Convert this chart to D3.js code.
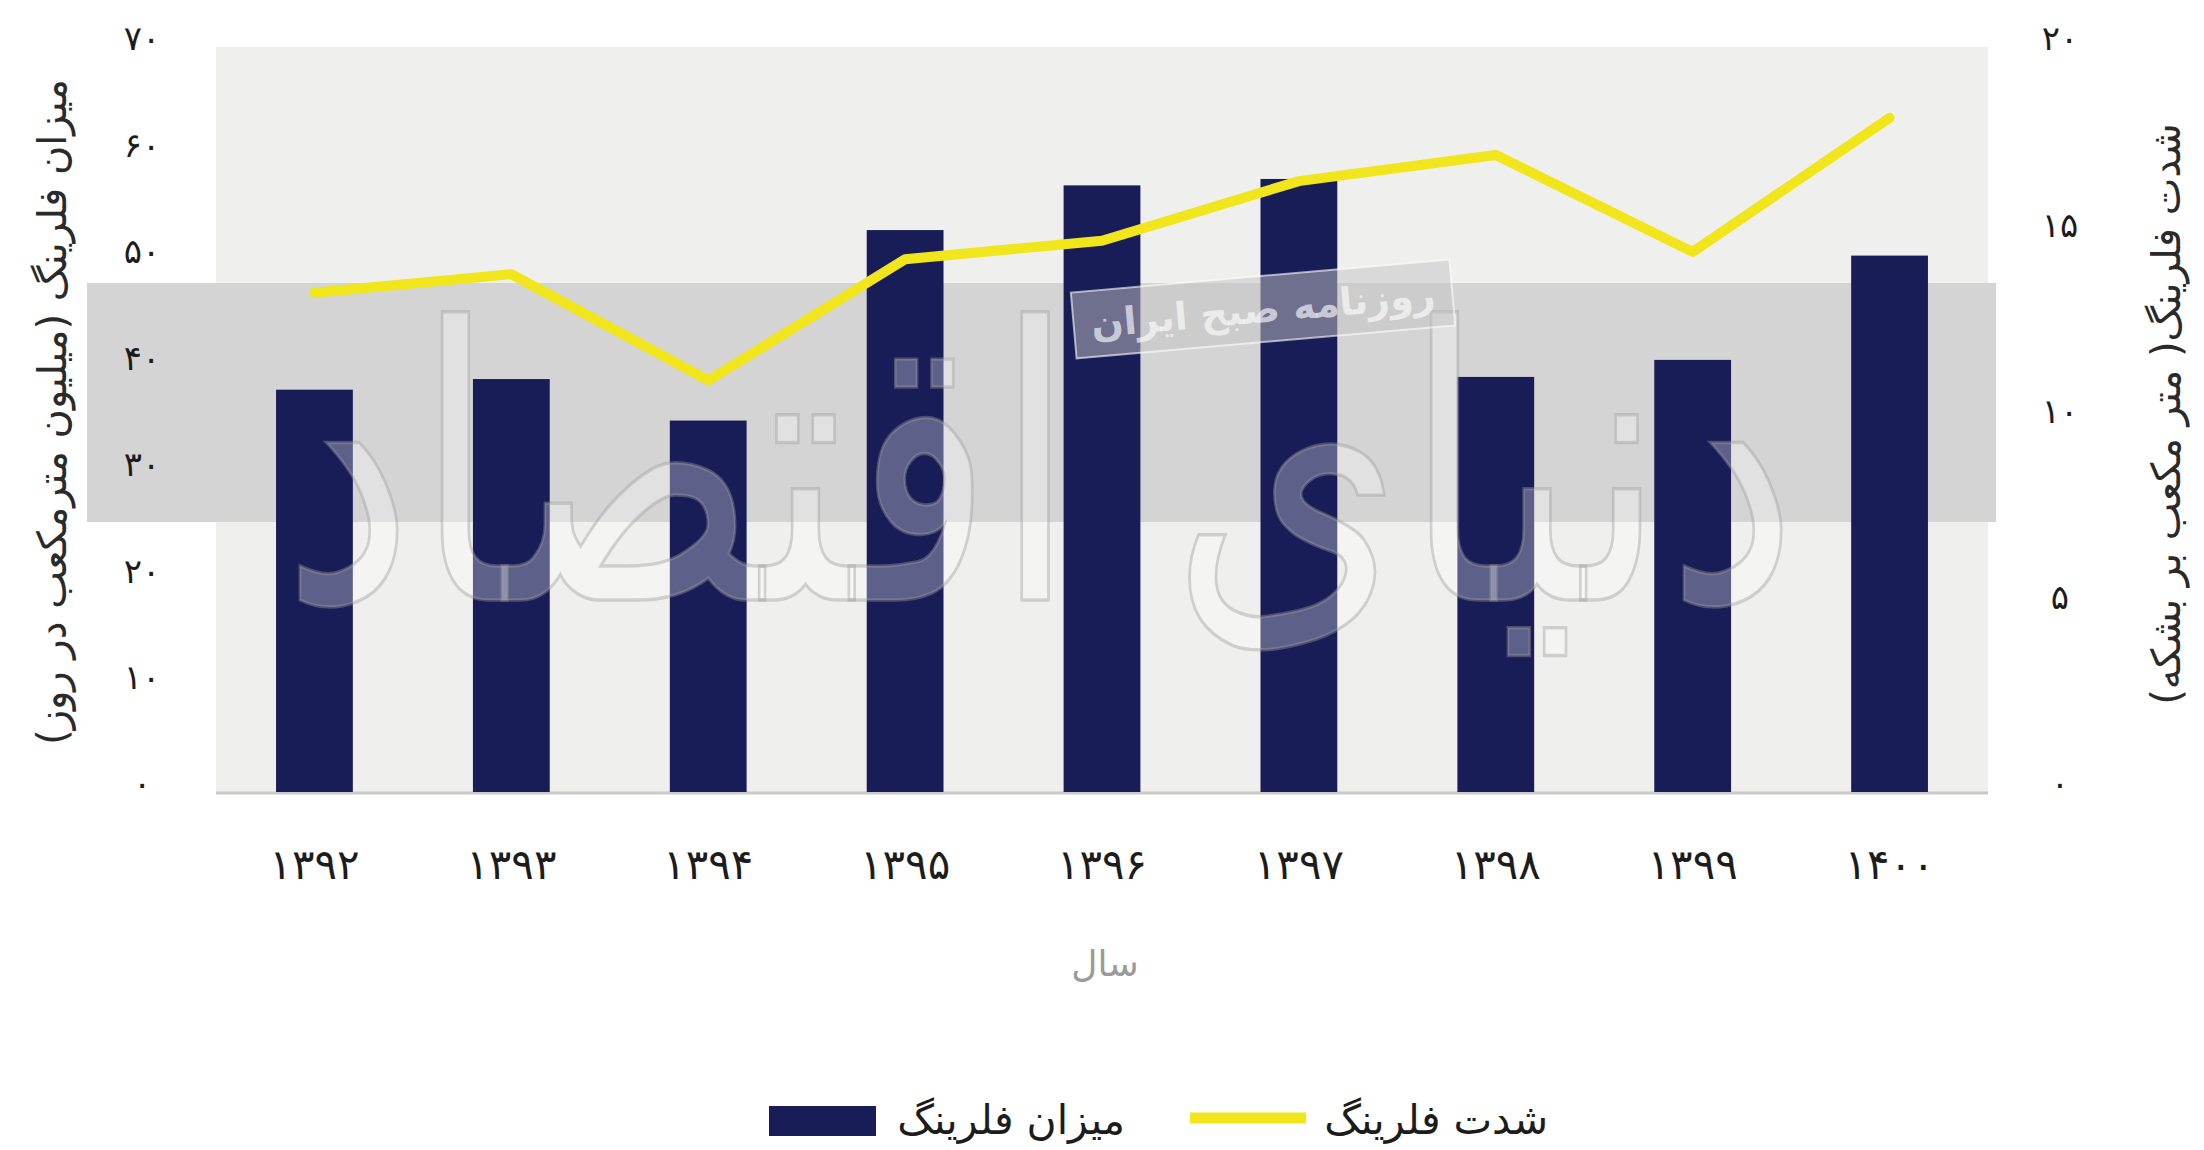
<!DOCTYPE html>
<html>
<head>
<meta charset="utf-8">
<script src="https://cdn.jsdelivr.net/npm/d3@7"></script>
<style>
  body { margin: 0; background: #ffffff; }
  svg { display: block; font-family: "DejaVu Sans", sans-serif; }
</style>
</head>
<body>
<div id="chart"></div>
<script>
// data
const years = ["۱۳۹۲", "۱۳۹۳", "۱۳۹۴", "۱۳۹۵", "۱۳۹۶", "۱۳۹۷", "۱۳۹۸", "۱۳۹۹", "۱۴۰۰"];
// flaring volume (million m3 per day) - bars, left axis
const flareVolume = [37.8, 38.8, 34.9, 52.8, 57.0, 57.6, 39.0, 40.6, 50.4];
// flaring intensity (m3 per barrel) - line, right axis
const flareIntensity = [13.4, 13.9, 11.05, 14.3, 14.8, 16.4, 17.1, 14.5, 18.1];
const leftTicks = [0, 10, 20, 30, 40, 50, 60, 70];
const rightTicks = [0, 5, 10, 15, 20];

const width = 2204, height = 1150;
// plot area
const margin = { top: 47, right: 216, bottom: 358, left: 216 };
const plotW = width - margin.left - margin.right,
      plotH = height - margin.top - margin.bottom;

const faDigits = "۰۱۲۳۴۵۶۷۸۹";
const toFa = v => String(v).replace(/\d/g, c => faDigits[c]);

const svg = d3.select("#chart")
  .append("svg")
  .attr("width", width)
  .attr("height", height);

const x = d3.scaleBand()
  .domain(years)
  .range([margin.left, margin.left + plotW])
  .paddingInner(0.61)
  .paddingOuter(0.305);

const yLeft = d3.scaleLinear().domain([0, 70]).range([margin.top + plotH, margin.top]);
const yRight = d3.scaleLinear().domain([0, 20]).range([margin.top + plotH, margin.top]);

// plot background
svg.append("rect")
  .attr("x", margin.left)
  .attr("y", margin.top)
  .attr("width", plotW)
  .attr("height", plotH)
  .attr("fill", "#efefee");

// watermark band
svg.append("rect")
  .attr("x", 87)
  .attr("y", 283)
  .attr("width", 1909)
  .attr("height", 239)
  .attr("fill", "#d4d4d4");

// baseline
svg.append("line")
  .attr("x1", margin.left)
  .attr("x2", margin.left + plotW)
  .attr("y1", yLeft(0) + 1)
  .attr("y2", yLeft(0) + 1)
  .attr("stroke", "#c9c9c9")
  .attr("stroke-width", 3);

// bars
svg.selectAll("rect.bar")
  .data(years)
  .enter()
  .append("rect")
  .attr("class", "bar")
  .attr("x", d => x(d))
  .attr("y", (d, i) => yLeft(flareVolume[i]))
  .attr("width", x.bandwidth())
  .attr("height", (d, i) => yLeft(0) - yLeft(flareVolume[i]))
  .attr("fill", "#181d57");

// intensity line
const line = d3.line()
  .x((d, i) => x(years[i]) + x.bandwidth() / 2)
  .y(d => yRight(d));

svg.append("path")
  .datum(flareIntensity)
  .attr("d", line)
  .attr("fill", "none")
  .attr("stroke", "#f1e51c")
  .attr("stroke-width", 10)
  .attr("stroke-linejoin", "round")
  .attr("stroke-linecap", "round");

// watermark text (faded, drawn over marks)
const wm = svg.append("g").attr("pointer-events", "none");
wm.append("text")
  .attr("transform", "translate(1040,600) scale(0.9,1.15)")
  .attr("text-anchor", "middle")
  .attr("direction", "rtl")
  .attr("font-size", 330)
  .attr("fill", "#ffffff")
  .attr("fill-opacity", 0.3)
  .attr("stroke", "#9a9a9a")
  .attr("stroke-opacity", 0.4)
  .attr("stroke-width", 3)
  .text("دنیای اقتصاد");
const tag = wm.append("g").attr("transform", "translate(1263,309) rotate(-5)");
tag.append("rect")
  .attr("x", -190).attr("y", -33)
  .attr("width", 380).attr("height", 66)
  .attr("fill", "#c4c4c4").attr("fill-opacity", 0.5)
  .attr("stroke", "#ffffff").attr("stroke-opacity", 0.6).attr("stroke-width", 2);
tag.append("text")
  .attr("text-anchor", "middle")
  .attr("direction", "rtl")
  .attr("dy", "0.35em")
  .attr("font-size", 38)
  .attr("font-weight", "bold")
  .attr("fill", "#ffffff").attr("fill-opacity", 0.65)
  .text("روزنامه صبح ایران");

// left axis
const axLeft = svg.append("g")
  .attr("transform", "translate(160,-8)")
  .call(d3.axisLeft(yLeft).tickValues(leftTicks).tickSize(0).tickFormat(toFa));
axLeft.select(".domain").remove();
axLeft.selectAll("text")
  .attr("x", -18)
  .attr("text-anchor", "middle")
  .attr("font-size", 34)
  .attr("font-family", "DejaVu Sans")
  .attr("fill", "#1c1c1c");

// right axis
const axRight = svg.append("g")
  .attr("transform", "translate(2044,-8)")
  .call(d3.axisRight(yRight).tickValues(rightTicks).tickSize(0).tickFormat(toFa));
axRight.select(".domain").remove();
axRight.selectAll("text")
  .attr("x", 16)
  .attr("text-anchor", "middle")
  .attr("font-size", 34)
  .attr("font-family", "DejaVu Sans")
  .attr("fill", "#1c1c1c");

// x axis labels
const axBottom = svg.append("g")
  .attr("transform", "translate(0," + (yLeft(0) + 54) + ")")
  .call(d3.axisBottom(x).tickSize(0));
axBottom.select(".domain").remove();
axBottom.selectAll("text")
  .attr("font-size", 42)
  .attr("font-family", "DejaVu Sans")
  .attr("fill", "#1c1c1c");

// axis titles
svg.append("text")
  .attr("transform", "translate(66,412) rotate(-90)")
  .attr("text-anchor", "middle")
  .attr("direction", "rtl")
  .attr("font-size", 40)
  .attr("fill", "#2a2a2a")
  .text("میزان فلرینگ (میلیون مترمکعب در روز)");

svg.append("text")
  .attr("transform", "translate(2180,414) rotate(-90)")
  .attr("text-anchor", "middle")
  .attr("direction", "rtl")
  .attr("font-size", 40)
  .attr("fill", "#2a2a2a")
  .text("شدت فلرینگ( متر مکعب بر بشکه)");

svg.append("text")
  .attr("x", 1105)
  .attr("y", 976)
  .attr("text-anchor", "middle")
  .attr("direction", "rtl")
  .attr("font-size", 36)
  .attr("fill", "#9a9a9a")
  .text("سال");

// legend
const legend = svg.append("g");
legend.append("rect")
  .attr("x", 769).attr("y", 1106)
  .attr("width", 107).attr("height", 30)
  .attr("fill", "#181d57");
legend.append("text")
  .attr("x", 1125).attr("y", 1134)
  .attr("direction", "rtl")
  .attr("font-size", 41)
  .attr("fill", "#1c1c1c")
  .attr("text-anchor", "start")
  .text("میزان فلرینگ");
legend.append("line")
  .attr("x1", 1190).attr("x2", 1306)
  .attr("y1", 1118).attr("y2", 1118)
  .attr("stroke", "#f1e51c")
  .attr("stroke-width", 11);
legend.append("text")
  .attr("x", 1548).attr("y", 1134)
  .attr("direction", "rtl")
  .attr("font-size", 41)
  .attr("fill", "#1c1c1c")
  .attr("text-anchor", "start")
  .text("شدت فلرینگ");
</script>
</body>
</html>
